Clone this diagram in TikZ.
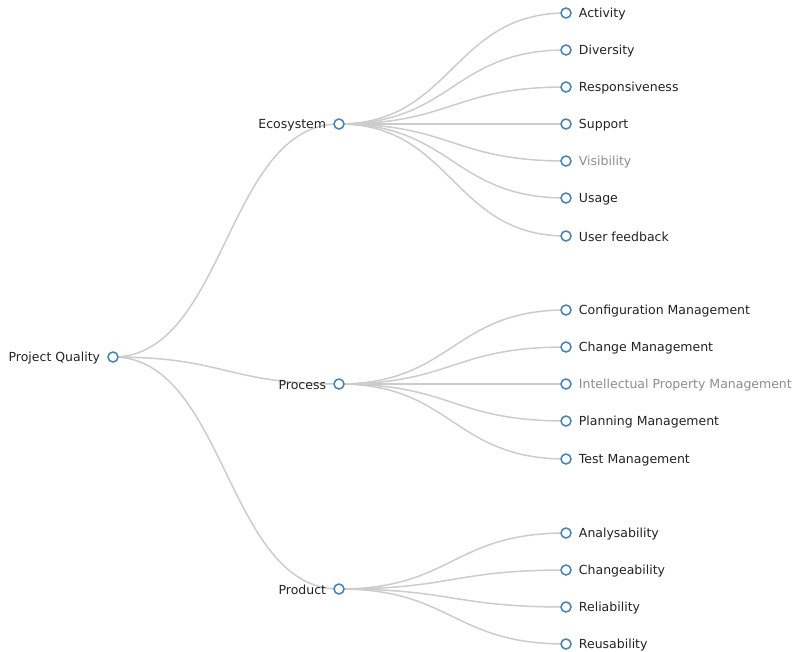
\documentclass[tikz,border=0pt]{standalone}
\usepackage{fontspec}
\setmainfont{DejaVu Sans}
\usetikzlibrary{calc}
\usetikzlibrary{backgrounds}
\definecolor{ringblue}{HTML}{4682B4}
\definecolor{linkgray}{HTML}{CCCCCC}
\definecolor{txtdark}{HTML}{222222}
\definecolor{txtdim}{HTML}{8C8C8C}

\begin{document}
\begin{tikzpicture}[x=1pt,y=-1pt,font=\fontsize{12.5}{14}\selectfont,
  label distance=7pt]
\tikzstyle{v}=[circle,draw=ringblue,fill=white,line width=1.5pt,minimum size=10pt,inner sep=0pt]
\tikzstyle{lab}=[inner sep=0pt,text=txtdark,yshift=-0.8pt]
\tikzstyle{dim}=[inner sep=0pt,text=txtdim,yshift=-0.8pt]
\tikzstyle{link}=[draw=linkgray,line width=1.5pt,
  to path={let \p1=(\tikztostart), \p2=(\tikztotarget) in
    (\p1) .. controls ({(\x1+\x2)/2},\y1) and ({(\x1+\x2)/2},\y2) .. (\p2)}]
\useasboundingbox (0,0) rectangle (795,651);
% root and branches
\node[v, label={[lab]left:Project Quality}]	(PQ)	at (113,357)	{};
\node[v, label={[lab]left:Ecosystem}]	(E)	at (339,124)	{};
\node[v, label={[lab]left:Process}]	(P)	at (339,384)	{};
\node[v, label={[lab]left:Product}]	(D)	at (339,589)	{};
% ecosystem leaves
\node[v, label={[lab]right:Activity}]	(Eact)	at (566,13)	{};
\node[v, label={[lab]right:Diversity}]	(Ediv)	at (566,50)	{};
\node[v, label={[lab]right:Responsiveness}]	(Eres)	at (566,87)	{};
\node[v, label={[lab]right:Support}]	(Esup)	at (566,124)	{};
\node[v, label={[dim]right:Visibility}]	(Evis)	at (566,161)	{};
\node[v, label={[lab]right:Usage}]	(Euse)	at (566,198)	{};
\node[v, label={[lab]right:User feedback}]	(Efb)	at (566,236)	{};
% process leaves
\node[v, label={[lab]right:Configuration Management}]	(Pcfg)	at (566,310)	{};
\node[v, label={[lab]right:Change Management}]	(Pchg)	at (566,347)	{};
\node[v, label={[dim]right:Intellectual Property Management}]	(Pipm)	at (566,384)	{};
\node[v, label={[lab]right:Planning Management}]	(Ppln)	at (566,421)	{};
\node[v, label={[lab]right:Test Management}]	(Ptst)	at (566,459)	{};
% product leaves
\node[v, label={[lab]right:Analysability}]	(Dana)	at (566,533)	{};
\node[v, label={[lab]right:Changeability}]	(Dchg)	at (566,570)	{};
\node[v, label={[lab]right:Reliability}]	(Drel)	at (566,607)	{};
\node[v, label={[lab]right:Reusability}]	(Dreu)	at (566,644)	{};
\begin{scope}[on background layer]
\path(PQ)	edge[link]	(E)
	 (PQ)	edge[link]	(P)
	 (PQ)	edge[link]	(D)
	 (E)	edge[link]	(Eact)
	 (E)	edge[link]	(Ediv)
	 (E)	edge[link]	(Eres)
	 (E)	edge[link]	(Esup)
	 (E)	edge[link]	(Evis)
	 (E)	edge[link]	(Euse)
	 (E)	edge[link]	(Efb)
	 (P)	edge[link]	(Pcfg)
	 (P)	edge[link]	(Pchg)
	 (P)	edge[link]	(Pipm)
	 (P)	edge[link]	(Ppln)
	 (P)	edge[link]	(Ptst)
	 (D)	edge[link]	(Dana)
	 (D)	edge[link]	(Dchg)
	 (D)	edge[link]	(Drel)
	 (D)	edge[link]	(Dreu);
\end{scope}
\end{tikzpicture}
\end{document}
